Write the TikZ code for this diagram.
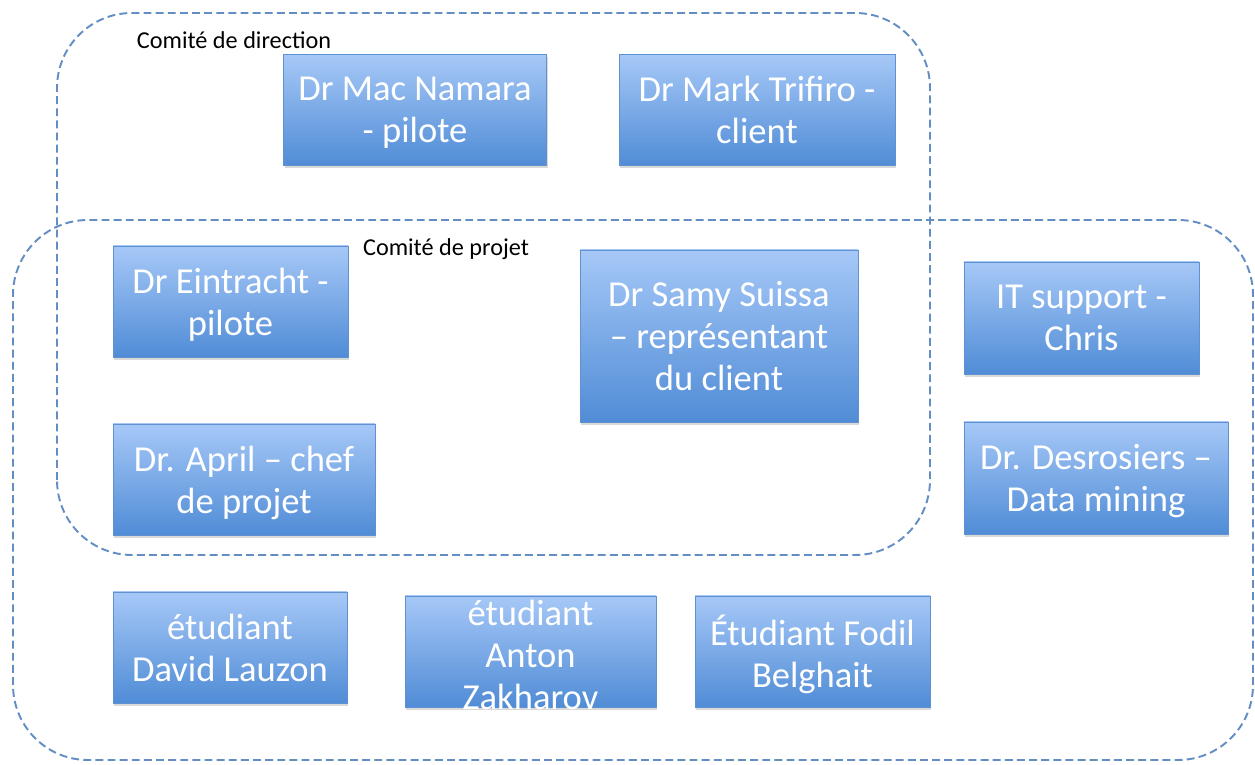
\documentclass[tikz,border=0pt]{standalone}
\usepackage{fontspec}
\setmainfont{Carlito}
\usetikzlibrary{shadows}
\definecolor{OrgTop}{RGB}{166,200,247}
\definecolor{OrgBottom}{RGB}{80,140,214}
\definecolor{OrgEdge}{RGB}{96,145,208}
\definecolor{OrgDash}{RGB}{98,142,196}

\begin{document}
\begin{tikzpicture}
        \tikzset{member/.style={draw=OrgEdge,line width=0.5pt,top color=OrgTop,bottom color=OrgBottom,text=white,align=center,inner sep=0pt,text depth=-2pt,minimum height=2.22cm,font=\fontsize{20.8}{24}\selectfont,drop shadow={shadow xshift=0.6pt,shadow yshift=-1.6pt,opacity=0.3}},committee/.style={draw=OrgDash,line width=1.1pt,dash pattern=on 4.5pt off 2.4pt,rounded corners=1.5cm},tag/.style={font=\fontsize{13.8}{16}\selectfont}}
        \useasboundingbox (0,0) rectangle (25.1,15.3);
        \draw[committee] (1.14,4.20) rectangle (18.60,15.04);
        \draw[committee] (0.26,0.10) rectangle (25.06,10.90);
        \node[tag] (direction) at (4.68,14.50) {Comité de direction};
        \node[tag] (projet) at (8.92,10.32) {Comité de projet};
        \node[member,minimum width=5.26cm] (namara) at (8.30,13.10) {Dr Mac Namara\\- pilote};
        \node[member,minimum width=5.52cm] (trifiro) at (15.14,13.10) {Dr Mark Trifiro -\\client};
        \node[member,minimum width=4.70cm] (eintracht) at (4.61,9.27) {Dr Eintracht -\\pilote};
        \node[member,minimum width=5.56cm,minimum height=3.44cm] (suissa) at (14.38,8.58) {Dr Samy Suissa\\– représentant\\du client};
        \node[member,minimum width=4.70cm,minimum height=2.24cm] (it) at (21.63,8.94) {IT support -\\Chris};
        \node[member,minimum width=5.24cm] (april) at (4.88,5.71) {Dr. April – chef\\de projet};
        \node[member,minimum width=5.28cm,minimum height=2.24cm] (desrosiers) at (21.92,5.74) {Dr. Desrosiers –\\Data mining};
        \node[member,minimum width=4.68cm] (lauzon) at (4.60,2.35) {étudiant\\David Lauzon};
        \node[member,minimum width=5.02cm,label={[text=white,align=center,yshift=-2pt,font=\fontsize{20.8}{24}\selectfont]center:étudiant\\Anton\\Zakharov}] (zakharov) at (10.61,2.27) {};
        \node[member,minimum width=4.70cm] (fodil) at (16.25,2.27) {Étudiant Fodil\\Belghait};
      \end{tikzpicture}
\end{document}
